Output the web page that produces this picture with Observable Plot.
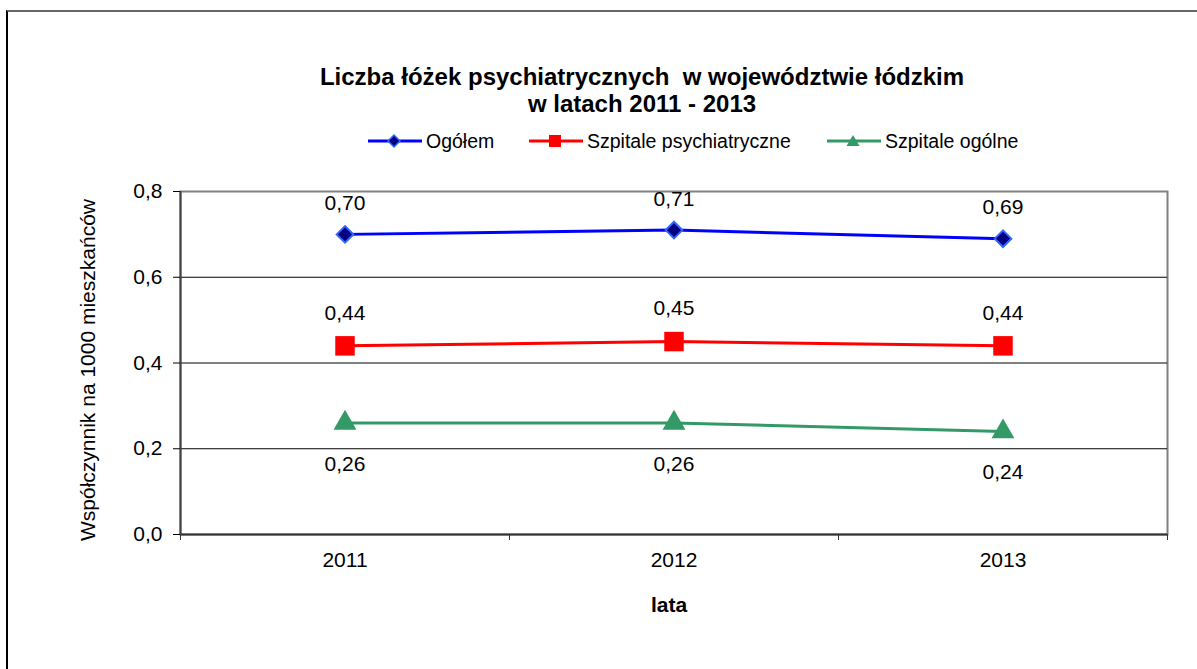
<!DOCTYPE html>
<html>
<head>
<meta charset="utf-8">
<script src="https://cdn.jsdelivr.net/npm/d3@7"></script>
<script src="https://cdn.jsdelivr.net/npm/@observablehq/plot@0.6"></script>
<style>
  html, body { margin: 0; padding: 0; background: #fff; }
  body { font-family: "Liberation Sans", Arial, sans-serif; }
  #wrap { position: relative; width: 1197px; height: 669px; overflow: hidden; background: #fff; }
  #border { position: absolute; left: 6px; top: 10px; width: 1300px; height: 800px;
            border-left: 2px solid #000; border-top: 2px solid #666; box-sizing: border-box; }
  #title { position: absolute; left: 142px; width: 1000px; top: 63px; text-align: center;
           font-weight: bold; font-size: 24px; line-height: 27px; color: #000; }
  .leg { position: absolute; top: 131px; height: 20px; display: flex; align-items: center;
         font-size: 19.5px; color: #000; white-space: nowrap; }
  .leg svg { margin-right: 4px; flex: none; }
  #chart { position: absolute; left: 0; top: 160px; }
</style>
</head>
<body>
<div id="wrap">
  <div id="border"></div>
  <div id="title">Liczba łóżek psychiatrycznych&nbsp; w województwie łódzkim<br>w latach 2011 - 2013</div>
  <div id="legend"></div>
  <div id="chart"></div>
</div>
<script>
// ---- data ----
const years = [2011, 2012, 2013];
const seriesNames = ["Ogółem", "Szpitale psychiatryczne", "Szpitale ogólne"];
const ogolem = [0.70, 0.71, 0.69];
const psychiatryczne = [0.44, 0.45, 0.44];
const ogolne = [0.26, 0.26, 0.24];
const yTicks = [0, 0.2, 0.4, 0.6, 0.8];
const gridValues = [0.2, 0.4, 0.6];
const xBoundaries = [2010.5, 2011.5, 2012.5, 2013.5];
const yLabel = "Współczynnik na 1000 mieszkańców";
const xLabel = "lata";

const colors = ["#0000ff", "#ff0000", "#339966"];
const valuesBySeries = [ogolem, psychiatryczne, ogolne];

const rows = [];
seriesNames.forEach((s, si) => years.forEach((y, i) => rows.push({series: s, year: y, value: valuesBySeries[si][i]})));
const of = s => rows.filter(r => r.series === s);
const fmt = v => v.toFixed(2).replace(".", ",");
const fmtTick = v => v.toFixed(1).replace(".", ",");

// ---- legend ----
const legendPos = [368, 529, 827];
const legendSym = [
  `<path d="M26,4 L32,10 L26,16 L20,10 Z" fill="#000080" stroke="#3366ff" stroke-width="1.5"/>`,
  `<rect x="20" y="4" width="12" height="12" fill="#ff0000"/>`,
  `<path d="M26,4 L32.5,15 L19.5,15 Z" fill="#339966"/>`
];
const legend = document.getElementById("legend");
seriesNames.forEach((s, i) => {
  const d = document.createElement("div");
  d.className = "leg";
  d.style.left = legendPos[i] + "px";
  d.innerHTML = `<svg width="54" height="20"><line x1="0" x2="54" y1="10" y2="10" stroke="${colors[i]}" stroke-width="3"/>${legendSym[i]}</svg><span>${s}</span>`;
  legend.appendChild(d);
});

// ---- chart ----
const chart = Plot.plot({
  width: 1197,
  height: 509,
  marginTop: 31,
  marginBottom: 135,
  marginLeft: 180,
  marginRight: 30,
  style: {fontSize: "21px", fontFamily: "Liberation Sans, Arial, sans-serif", color: "#000", background: "transparent", overflow: "visible"},
  x: {type: "linear", domain: [2010.5, 2013.5]},
  y: {domain: [0, 0.8]},
  color: {domain: seriesNames, range: colors},
  marks: [
    Plot.frame({stroke: "#808080", strokeWidth: 2}),
    Plot.ruleY(gridValues, {stroke: "#000", strokeWidth: 1}),
    Plot.ruleY([0], {stroke: "#333", strokeWidth: 2}),
    Plot.ruleX([2010.5], {stroke: "#444", strokeWidth: 2}),
    Plot.axisY({ticks: yTicks, tickSize: 7, tickPadding: 11, tickFormat: fmtTick, label: null, stroke: "#000", fontSize: 21}),
    Plot.axisX({ticks: xBoundaries, tickSize: 6, tickFormat: () => "", label: null, stroke: "#333"}),
    Plot.axisX({ticks: years, tickSize: 0, tickPadding: 18, tickFormat: d => String(d), label: null, fontSize: 21}),
    Plot.text([yLabel], {frameAnchor: "left", textAnchor: "middle", rotate: -90, dx: -92, dy: 7, fontSize: 21}),
    Plot.text([xLabel], {frameAnchor: "bottom", dy: 77, dx: -5, fontSize: 21, fontWeight: "bold"}),
    Plot.line(rows, {x: "year", y: "value", z: "series", stroke: "series", strokeWidth: 3}),
    Plot.dot(of(seriesNames[0]), {x: "year", y: "value", symbol: "diamond2", r: 7.5, fill: "#000080", stroke: "#3366ff", strokeWidth: 2}),
    Plot.dot(of(seriesNames[1]), {x: "year", y: "value", symbol: "square", r: 11, fill: "#ff0000", stroke: "none"}),
    Plot.dot(of(seriesNames[2]), {x: "year", y: "value", symbol: "triangle", r: 8.5, fill: "#339966", stroke: "none"}),
    Plot.text(of(seriesNames[0]), {x: "year", y: "value", text: d => fmt(d.value), dy: -31, fontSize: 21}),
    Plot.text(of(seriesNames[1]), {x: "year", y: "value", text: d => fmt(d.value), dy: -33, fontSize: 21}),
    Plot.text(of(seriesNames[2]), {x: "year", y: "value", text: d => fmt(d.value), dy: 41, fontSize: 21})
  ]
});
document.getElementById("chart").appendChild(chart);
</script>
</body>
</html>
